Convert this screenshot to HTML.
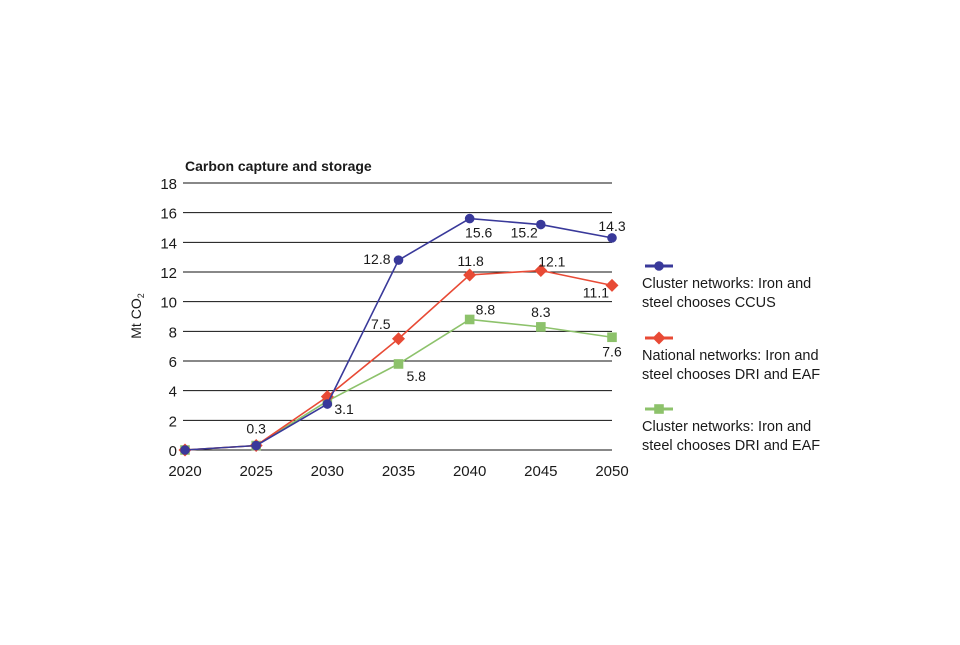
<!DOCTYPE html>
<html><head><meta charset="utf-8"><style>
body{margin:0;background:#fff;}
svg text{font-family:"Liberation Sans",sans-serif;fill:#1a1a1a;}
</style></head><body>
<svg id="chart" width="960" height="640" viewBox="0 0 960 640">
<text x="185" y="171" font-size="14" font-weight="bold">Carbon capture and storage</text>
<text transform="translate(141,316) rotate(-90)" text-anchor="middle" font-size="14">Mt CO<tspan font-size="9" dy="3">2</tspan></text>
<g id="grid"></g><g id="series"></g><g id="legend"></g>
</svg>
<script>
const years=[2020,2025,2030,2035,2040,2045,2050];
const yTicks=[0,2,4,6,8,10,12,14,16,18];
const blueVals=[0,0.3,3.1,12.8,15.6,15.2,14.3];
const redVals=[0,0.3,3.6,7.5,11.8,12.1,11.1];
const greenVals=[0,0.3,3.3,5.8,8.8,8.3,7.6];
const blueLabels=[null,"0.3","3.1","12.8","15.6","15.2","14.3"];
const redLabels=[null,null,null,"7.5","11.8","12.1","11.1"];
const greenLabels=[null,null,null,"5.8","8.8","8.3","7.6"];
const legendNames=["Cluster networks: Iron and|steel chooses CCUS","National networks: Iron and|steel chooses DRI and EAF","Cluster networks: Iron and|steel chooses DRI and EAF"];
const NS="http://www.w3.org/2000/svg";
const x=y=>185+(y-2020)*(427/30);
const yS=v=>450-v*(267/18);
function el(t,a,p){const e=document.createElementNS(NS,t);for(const k in a)e.setAttribute(k,a[k]);p.appendChild(e);return e;}
const grid=document.getElementById('grid');
yTicks.forEach(t=>{
 const l=el('line',{x1:183,x2:612,y1:yS(t),y2:yS(t),stroke:'#111','stroke-width':1},grid);
 
 
 const tx=el('text',{x:177,y:yS(t)+6,'text-anchor':'end','font-size':15},grid);tx.textContent=t;
 
 
});
years.forEach(yr=>{
 const tx=el('text',{x:x(yr),y:476,'text-anchor':'middle','font-size':15},grid);tx.textContent=yr;
 
 
});
const offs={
 blue:[null,[0,-12,'middle'],[7,10,'start'],[-8,4,'end'],[9,19,'middle'],[-3,13,'end'],[0,-7,'middle']],
 red:[null,null,null,[-8,-10,'end'],[1,-9,'middle'],[11,-4,'middle'],[-3,12,'end']],
 green:[null,null,null,[8,17,'start'],[6,-5,'start'],[0,-10,'middle'],[0,19,'middle']]
};
const sers=[['green',greenVals,greenLabels,'#8dc26b','sq'],['red',redVals,redLabels,'#e84a35','dia'],['blue',blueVals,blueLabels,'#39399a','circ']];
const sg=document.getElementById('series');
function marker(kind,cx,cy,c,p){
 if(kind==='circ')return el('circle',{cx:cx,cy:cy,r:4.8,fill:c},p);
 if(kind==='sq')return el('rect',{x:cx-4.8,y:cy-4.8,width:9.6,height:9.6,fill:c},p);
 return el('polygon',{points:`${cx},${cy-6.5} ${cx+6.5},${cy} ${cx},${cy+6.5} ${cx-6.5},${cy}`,fill:c},p);
}
sers.forEach(([n,vals,labs,c,k])=>{
 const g=el('g',{},sg);
 
 
 const pl=el('polyline',{points:vals.map((v,i)=>x(years[i])+','+yS(v)).join(' '),fill:'none',stroke:c,'stroke-width':1.6},g);
 
 
 vals.forEach((v,i)=>{
  const m=marker(k,x(years[i]),yS(v),c,g);
  
  
  if(labs[i]){const o=offs[n][i];
   const t=el('text',{x:x(years[i])+o[0],y:yS(v)+o[1],'text-anchor':o[2],'font-size':14},g);t.textContent=labs[i];
   
   }
 });
});
const lg=document.getElementById('legend');
const lcol=['#39399a','#e84a35','#8dc26b'],lk=['circ','dia','sq'],ly=[266,338,409];
legendNames.forEach((nm,i)=>{
 const g=el('g',{},lg);
 
 
 el('line',{x1:645,x2:673,y1:ly[i],y2:ly[i],stroke:lcol[i],'stroke-width':3},g);
 marker(lk[i],659,ly[i],lcol[i],g);
 nm.split('|').forEach((s,j)=>{const t=el('text',{x:642,y:ly[i]+22+j*19,'font-size':14.5},g);t.textContent=s;});
});
</script>
</body></html>
